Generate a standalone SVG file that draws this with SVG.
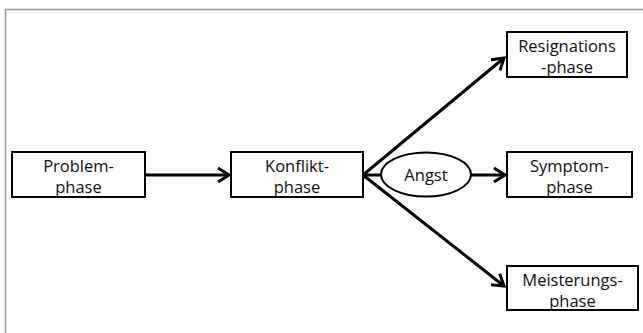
<svg xmlns="http://www.w3.org/2000/svg" width="643" height="333" viewBox="0 0 643 333">
<style>
.box{fill:#fff;stroke:#000;stroke-width:2}
.lbl{font-family:"Open Sans","Liberation Sans",sans-serif;font-size:16.5px;fill:#111;text-anchor:middle}
.con{fill:none;stroke:#000;stroke-width:3}
</style>
<defs>
<marker id="arr" markerUnits="userSpaceOnUse" markerWidth="24" markerHeight="24" viewBox="-16 -12 24 24" refX="0" refY="0" orient="auto" overflow="visible">
<path d="M-11,-7 L0,0 L-11,7" fill="none" stroke="#000" stroke-width="3"/>
</marker>
</defs>
<rect width="643" height="333" fill="#fff"/>
<path d="M5.5,333 V9.5 H643" fill="none" stroke="#9a9a9a" stroke-width="1.5"/>
<g id="connectors">
<line class="con" x1="145" y1="175" x2="229" y2="175" marker-end="url(#arr)"/>
<line class="con" x1="363" y1="175" x2="382" y2="175"/>
<line class="con" x1="471" y1="175" x2="505" y2="175" marker-end="url(#arr)"/>
<line class="con" x1="363" y1="175" x2="504" y2="58" marker-end="url(#arr)"/>
<line class="con" x1="363" y1="175" x2="504" y2="286" marker-end="url(#arr)"/>
</g>
<g id="problem">
<rect class="box" x="12" y="152" width="133" height="45"/>
<text class="lbl" x="78.5" y="171.5">Problem-</text>
<text class="lbl" x="78.5" y="192.5">phase</text>
</g>
<g id="konflikt">
<rect class="box" x="231" y="152" width="132" height="45"/>
<text class="lbl" x="297" y="171.5">Konflikt-</text>
<text class="lbl" x="297" y="192.5">phase</text>
</g>
<g id="angst">
<ellipse class="box" cx="426" cy="174.5" rx="45" ry="22"/>
<text class="lbl" x="426" y="180.5">Angst</text>
</g>
<g id="resignation">
<rect class="box" x="507" y="32" width="120" height="45"/>
<text class="lbl" x="567" y="52">Resignations</text>
<text class="lbl" x="567" y="73">-phase</text>
</g>
<g id="symptom">
<rect class="box" x="507" y="152" width="125" height="45"/>
<text class="lbl" x="569.5" y="171.5">Symptom-</text>
<text class="lbl" x="569.5" y="192.5">phase</text>
</g>
<g id="meisterung">
<rect class="box" x="507" y="266" width="131" height="44"/>
<text class="lbl" x="572.5" y="285.5">Meisterungs-</text>
<text class="lbl" x="572.5" y="306.5">phase</text>
</g>
</svg>
